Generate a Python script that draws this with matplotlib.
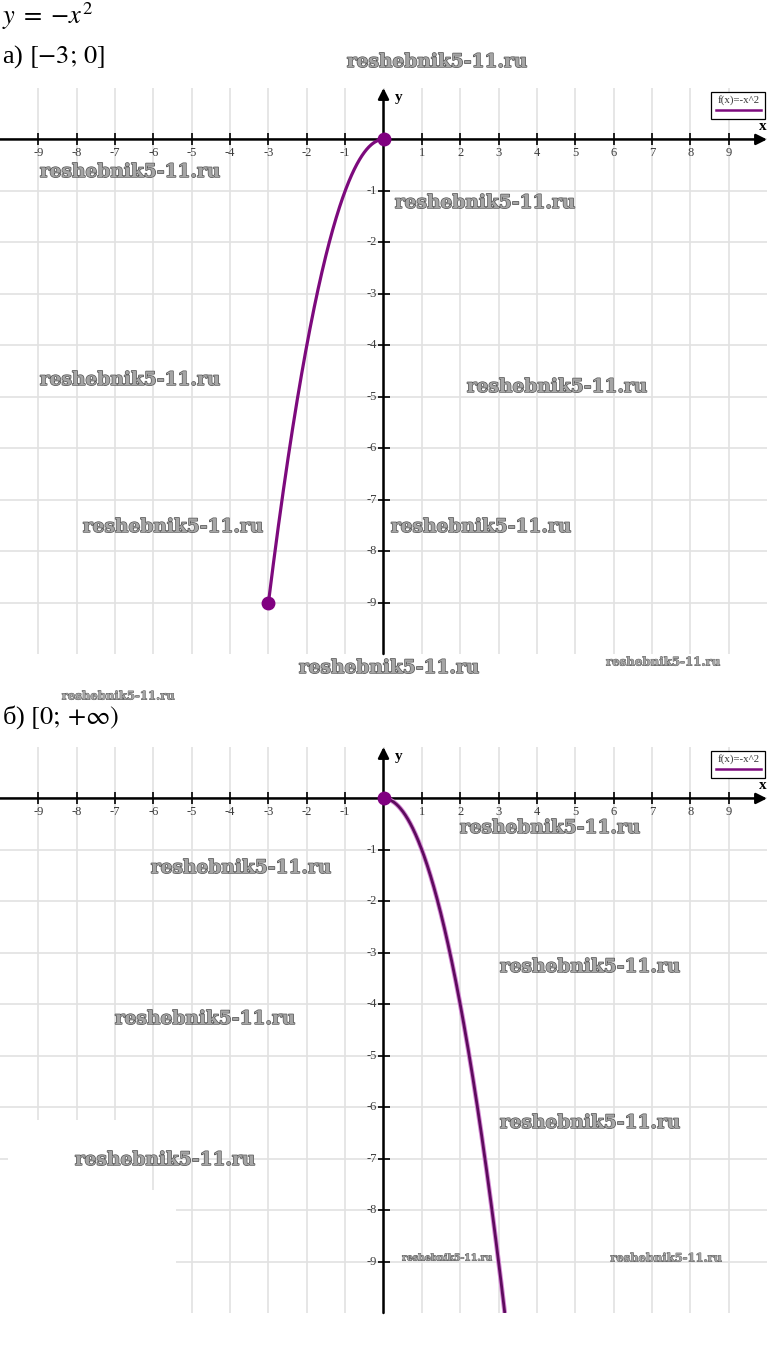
import numpy as np
import matplotlib.pyplot as plt
import matplotlib.patheffects as pe
from matplotlib.patches import Rectangle, Polygon

plt.rcParams['font.family'] = ['Liberation Serif', 'DejaVu Serif']
plt.rcParams['mathtext.fontset'] = 'stix'

# data
x_ticks = [-9, -8, -7, -6, -5, -4, -3, -2, -1, 1, 2, 3, 4, 5, 6, 7, 8, 9]
y_ticks = [-1, -2, -3, -4, -5, -6, -7, -8, -9]
grid_x = list(range(-9, 10))
grid_y = list(range(-9, 1))

seg_a = [-3, 0]            # a) [-3; 0]
seg_b = [0, np.sqrt(10)]   # b) [0; +inf), cut at the bottom of the grid
points_a_x = [-3, 0]
points_a_y = [-9, 0]
points_b_x = [0]
points_b_y = [0]

W, H = 767, 1347

# watermarks: (x px, y px, size)
marks = [
    (437, 62, 13.4), (130, 172, 13.4), (485, 203, 13.4), (130, 380, 13.4),
    (557, 387, 13.4), (173, 527, 13.4), (481, 527, 13.4), (389, 668, 13.4),
    (663, 662, 8.5), (118, 696, 8.4),
    (550, 828, 13.4), (241, 868, 13.4), (590, 967, 13.4), (205, 1019, 13.4),
    (590, 1123, 13.4), (165, 1160, 13.4), (447, 1258, 6.7), (666, 1258, 8.3),
]

purple = '#7d0a7d'


def f(x):
    return -x ** 2


def draw_panel(ax, seg, px, py, dark=False):
    ax.set_xlim(-10, 10)
    ax.set_ylim(-10, 1)
    ax.axis('off')
    # grid
    ax.vlines(grid_x, -10, 1, color='#e2e2e2', lw=1.2, zorder=0)
    ax.hlines(grid_y, -10, 10, color='#e2e2e2', lw=1.2, zorder=0)
    # axes with arrows
    ax.annotate('', xy=(10, 0), xytext=(-10, 0),
                arrowprops=dict(arrowstyle='-|>', lw=1.8, color='k',
                                mutation_scale=16, shrinkA=0, shrinkB=0),
                annotation_clip=False, zorder=3)
    ax.annotate('', xy=(0, 1), xytext=(0, -10),
                arrowprops=dict(arrowstyle='-|>', lw=1.8, color='k',
                                mutation_scale=16, shrinkA=0, shrinkB=0),
                annotation_clip=False, zorder=3)
    ax.plot(x_ticks, [0] * len(x_ticks), ls='none', marker='|', ms=9, mew=1.2, color='k', zorder=3)
    ax.plot([0] * len(y_ticks), y_ticks, ls='none', marker='_', ms=9, mew=1.2, color='k', zorder=3)
    for t in x_ticks:
        ax.text(t, -0.27, str(t), ha='center', va='center', fontsize=9, color='#3c3c3c')
    for t in y_ticks:
        ax.text(-0.17, t, str(t), ha='right', va='center', fontsize=9, color='#3c3c3c')
    ax.text(9.9, 0.26, 'x', ha='center', va='center', fontsize=11, fontweight='bold')
    ax.text(0.4, 0.82, 'y', ha='center', va='center', fontsize=11, fontweight='bold')
    # legend box
    ax.add_patch(Rectangle((0.927, 0.945), 0.071, 0.048, transform=ax.transAxes,
                           facecolor='white', edgecolor='k', lw=0.9, zorder=4, clip_on=False))
    ax.text(0.963, 0.978, 'f(x)=-x^2', transform=ax.transAxes, ha='center', va='center',
            fontsize=7.8, color='#333333', zorder=5)
    ax.plot([0.934, 0.992], [0.961, 0.961], transform=ax.transAxes, color=purple, lw=1.8, zorder=5)
    # curve
    xs = np.linspace(seg[0], seg[1], 300)
    if dark:
        ax.plot(xs, f(xs), color='#d58ad5', lw=3.4, zorder=5, solid_capstyle='butt')
        ax.plot(xs, f(xs), color='#5e0b5e', lw=2.0, zorder=6, solid_capstyle='butt')
    else:
        ax.plot(xs, f(xs), color=purple, lw=2.3, zorder=6)
    ax.plot(px, py, ls='none', marker='o', ms=9, color='#800080', zorder=7, clip_on=False)


fig = plt.figure(figsize=(W / 100, H / 100), dpi=100)
ax1 = fig.add_axes([0, 1 - 654 / H, 1, 566 / H])
ax2 = fig.add_axes([0, 1 - 1313 / H, 1, 566 / H])

draw_panel(ax1, seg_a, points_a_x, points_a_y)
draw_panel(ax2, seg_b, points_b_x, points_b_y, dark=True)

# white patch where the grid is missing in the lower panel
ax2.add_patch(Polygon([(-9.8, -6.25), (-6.3, -6.25), (-6.3, -7.6), (-5.4, -7.6),
                       (-5.4, -10), (-10, -10), (-10, -7.25), (-9.8, -7.25)],
                      facecolor='white', edgecolor='none', zorder=1))

# headings
fig.text(2 / W, 1 - 16 / H, r'$y\;=\;{-}x^2$', fontsize=19, ha='left', va='center')
fig.text(2 / W, 1 - 57 / H, r'а) $[-3;\,0]$', fontsize=19, ha='left', va='center')
fig.text(2 / W, 1 - 717 / H, r'б) $[0;\,{+}\infty)$', fontsize=19, ha='left', va='center')

for mx, my, ms in marks:
    fig.text(mx / W, 1 - my / H, 'reshebnik5-11.ru', fontsize=ms, ha='center', va='center',
             family='DejaVu Serif', fontweight='bold', color='#a5a5a5', zorder=10,
             path_effects=[pe.withStroke(linewidth=1.0 if ms > 10 else 0.6, foreground='#555555')])

fig.savefig('out.png', dpi=100)
